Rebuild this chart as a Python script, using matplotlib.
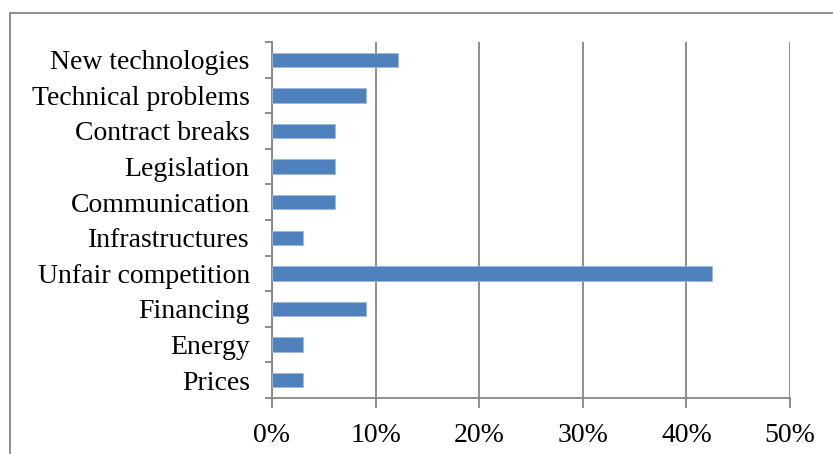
import matplotlib.pyplot as plt
from matplotlib.patches import Rectangle
from matplotlib.ticker import FuncFormatter

categories = ["Prices", "Energy", "Financing", "Unfair competition", "Infrastructures",
              "Communication", "Legislation", "Contract breaks", "Technical problems",
              "New technologies"]
counts = [1, 1, 3, 14, 1, 2, 2, 2, 3, 4]
n_answers = 33
shares = [c / n_answers for c in counts]
x_ticks = [0, 0.1, 0.2, 0.3, 0.4, 0.5]

plt.rcParams['font.family'] = ['Liberation Serif', 'DejaVu Serif']

fig = plt.figure(figsize=(8.33, 4.54), dpi=100)
ax = fig.add_axes([272 / 833, 1 - 398 / 454, (790 - 272) / 833, (398 - 42) / 454])

# chart frame, cut off by the figure on the right and bottom
fig.patches.append(Rectangle((10 / 833, -0.1), 1.0, 1 - 13 / 454 + 0.1,
                             transform=fig.transFigure, fill=False,
                             edgecolor="#868686", linewidth=1.3))

pos = range(len(categories))
ax.barh(pos, shares, height=0.4, color="#4F81BD", edgecolor="#9DB9DE", linewidth=0.6, zorder=3)

ax.set_xlim(0, 0.5)
ax.set_ylim(-0.5, len(categories) - 0.5)
ax.set_xticks(x_ticks)
ax.xaxis.set_major_formatter(FuncFormatter(lambda v, _: f"{v * 100:.0f}%"))
ax.set_yticks(list(pos))
ax.set_yticklabels(categories)
ax.set_yticks([i - 0.5 for i in range(len(categories) + 1)], minor=True)

ax.grid(axis="x", color="#868686", linewidth=1.3, zorder=0)
for side in ["top", "right"]:
    ax.spines[side].set_visible(False)
for side in ["left", "bottom"]:
    ax.spines[side].set_color("#868686")
    ax.spines[side].set_linewidth(1.3)

ax.tick_params(axis="y", which="major", length=0, pad=16, labelsize=20)
ax.tick_params(axis="y", which="minor", length=5, width=1.3, color="#868686")
ax.tick_params(axis="x", length=7, width=1.3, color="#868686", pad=11, labelsize=20)

fig.savefig("out.png", dpi=100)
